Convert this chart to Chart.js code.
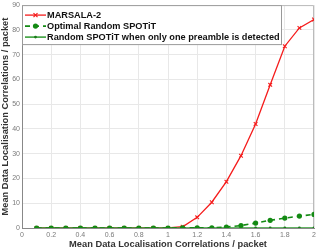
<!DOCTYPE html>
<html>
<head>
<meta charset="utf-8">
<script src="https://cdn.jsdelivr.net/npm/chart.js@4"></script>
<style>
    html, body { margin: 0; padding: 0; background: #fff; }
    #wrap { width: 322px; height: 252px; }
</style>
</head>
<body>
<div id="wrap"><canvas id="chart" width="322" height="252"></canvas></div>
<script>
// ===== DATA =====
const xValues = [0.1, 0.2, 0.3, 0.4, 0.5, 0.6, 0.7, 0.8, 0.9, 1.0,
                 1.1, 1.2, 1.3, 1.4, 1.5, 1.6, 1.7, 1.8, 1.9, 2.0];
const marsala = [0, 0, 0, 0, 0, 0, 0, 0, 0, 0,
                 0.5, 4.3, 10.4, 18.7, 29.2, 42.0, 57.8, 73.4, 80.8, 84.2];
const optimalSpotit = [0, 0, 0, 0, 0, 0, 0, 0, 0, 0,
                       0.1, 0.1, 0.1, 0.4, 1.0, 2.0, 3.1, 4.0, 4.8, 5.5];
const onePreamble = [0, 0, 0, 0, 0, 0, 0, 0, 0, 0,
                     0, 0, 0, 0, 0, 0, 0, 0, 0, 0];
const xTicks = [0, 0.2, 0.4, 0.6, 0.8, 1, 1.2, 1.4, 1.6, 1.8, 2];
const yTicks = [0, 10, 20, 30, 40, 50, 60, 70, 80, 90];
const axisTitle = 'Mean Data Localisation Correlations / packet';

const RED = '#f51c1c';
const GREEN = '#138a13';
const FONT = "'Liberation Sans', Arial, sans-serif";

function toPoints(ys) {
    return xValues.map((x, i) => ({ x: x, y: ys[i] }));
}

// ===== LEGEND INSIDE PLOT =====
const insideLegend = {
    id: 'insideLegend',
    afterDraw(chart) {
        const ctx = chart.ctx;
        const area = chart.chartArea;
        const x0 = area.left, y0 = area.top;
        const w = 260, h = 40;
        ctx.save();
        ctx.fillStyle = '#fff';
        ctx.fillRect(x0, y0, w, h);
        ctx.strokeStyle = '#999';
        ctx.lineWidth = 1;
        ctx.strokeRect(x0 + 0.5, y0 + 0.5, w - 1, h - 1);
        ctx.font = "bold 9.2px " + FONT;
        ctx.textBaseline = 'middle';
        chart.data.datasets.forEach((ds, i) => {
            const cy = y0 + 10 + i * 11;
            ctx.strokeStyle = ds.borderColor;
            ctx.lineWidth = ds.borderWidth;
            ctx.setLineDash(ds.borderDash || []);
            ctx.beginPath();
            ctx.moveTo(x0 + 3, cy);
            ctx.lineTo(x0 + 24, cy);
            ctx.stroke();
            ctx.setLineDash([]);
            const mx = x0 + 13.5;
            if (ds.pointStyle === 'crossRot') {
                ctx.lineWidth = 1.2;
                ctx.beginPath();
                ctx.moveTo(mx - 2, cy - 2); ctx.lineTo(mx + 2, cy + 2);
                ctx.moveTo(mx + 2, cy - 2); ctx.lineTo(mx - 2, cy + 2);
                ctx.stroke();
            } else {
                ctx.fillStyle = ds.pointBackgroundColor;
                ctx.beginPath();
                ctx.arc(mx, cy, ds.pointRadius, 0, Math.PI * 2);
                ctx.fill();
            }
            ctx.fillStyle = '#111';
            ctx.fillText(ds.label, x0 + 25, cy + 0.5);
        });
        ctx.restore();
    }
};

// ===== BOX AROUND PLOT =====
const plotBox = {
    id: 'plotBox',
    beforeDatasetsDraw(chart) {
        const ctx = chart.ctx;
        const a = chart.chartArea;
        ctx.save();
        ctx.strokeStyle = '#bbb';
        ctx.lineWidth = 1;
        ctx.beginPath();
        ctx.moveTo(a.left, a.top + 0.5);
        ctx.lineTo(a.right - 0.5, a.top + 0.5);
        ctx.lineTo(a.right - 0.5, a.bottom);
        ctx.stroke();
        ctx.restore();
    }
};

// ===== CHART =====
new Chart(document.getElementById('chart'), {
    type: 'line',
    data: {
        datasets: [
            {
                label: 'MARSALA-2',
                data: toPoints(marsala),
                borderColor: RED,
                backgroundColor: RED,
                pointBackgroundColor: RED,
                pointBorderColor: RED,
                borderWidth: 1.3,
                pointStyle: 'crossRot',
                pointRadius: 2.6,
                pointBorderWidth: 1.1,
                order: 3
            },
            {
                label: 'Optimal Random SPOTiT',
                data: toPoints(optimalSpotit),
                borderColor: GREEN,
                backgroundColor: GREEN,
                pointBackgroundColor: GREEN,
                pointBorderColor: GREEN,
                borderWidth: 1.6,
                borderDash: [5, 4],
                pointStyle: 'circle',
                pointRadius: 2.6,
                pointBorderWidth: 0,
                order: 1
            },
            {
                label: 'Random SPOTiT when only one preamble is detected',
                data: toPoints(onePreamble),
                borderColor: '#2e9a2e',
                backgroundColor: '#2e9a2e',
                pointBackgroundColor: '#1a7a1a',
                pointBorderColor: '#1a7a1a',
                borderWidth: 1.5,
                pointStyle: 'circle',
                pointRadius: 1.4,
                pointBorderWidth: 0,
                order: 2
            }
        ]
    },
    options: {
        responsive: false,
        animation: false,
        layout: { padding: { top: 0, right: 8, left: 0, bottom: 0 } },
        plugins: {
            legend: { display: false },
            tooltip: { enabled: false }
        },
        scales: {
            x: {
                type: 'linear',
                min: 0,
                max: 2,
                afterBuildTicks: (scale) => { scale.ticks = xTicks.map(v => ({ value: v })); },
                afterFit: (scale) => { scale.height = 24; },
                ticks: {
                    color: '#7a7a7a',
                    font: { size: 7, family: FONT },
                    padding: 3,
                    maxRotation: 0,
                    autoSkip: false,
                    callback: (v) => String(v)
                },
                grid: { color: '#e8e8e8', drawTicks: false },
                border: { color: '#888' },
                title: {
                    display: true,
                    text: axisTitle,
                    color: '#333',
                    font: { size: 9.3, weight: 'bold', family: FONT },
                    padding: { top: 0, bottom: 2 }
                }
            },
            y: {
                min: 0,
                max: 90,
                afterBuildTicks: (scale) => { scale.ticks = yTicks.map(v => ({ value: v })); },
                afterFit: (scale) => {
                    scale.width = 22;
                    scale.paddingTop = 0;
                    scale.paddingBottom = 0;
                },
                ticks: {
                    color: '#7a7a7a',
                    font: { size: 7, family: FONT },
                    padding: 2,
                    autoSkip: false
                },
                grid: { color: '#e8e8e8', drawTicks: false },
                border: { color: '#888' },
                title: {
                    display: true,
                    text: axisTitle,
                    color: '#333',
                    font: { size: 9.3, weight: 'bold', family: FONT },
                    padding: { top: 0, bottom: 0 }
                }
            }
        }
    },
    plugins: [plotBox, insideLegend]
});
</script>
</body>
</html>
